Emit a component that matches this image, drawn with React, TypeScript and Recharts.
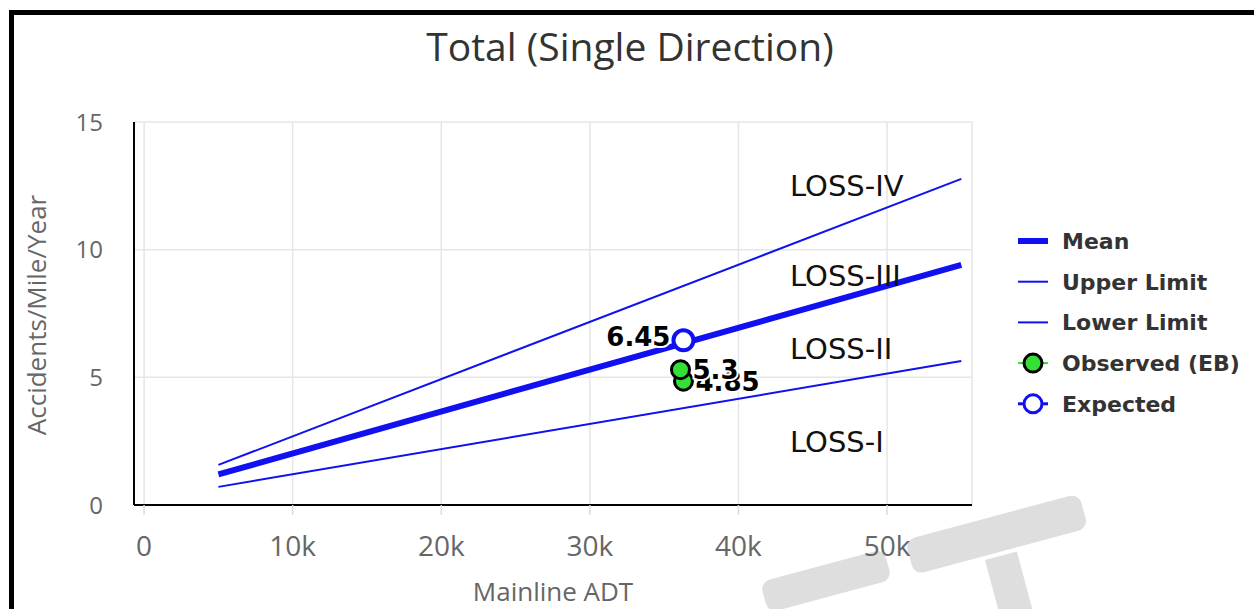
import React from 'react';
import { ComposedChart, Line, Scatter, XAxis, YAxis, CartesianGrid } from 'recharts';

// data
const adtRange = [5000, 55000];
const meanRate = [1.2, 9.4];
const upperRate = [1.57, 12.77];
const lowerRate = [0.71, 5.64];

const observedAdt = [36300, 36100];
const observedRate = [4.85, 5.3];
const expectedAdt = [36300];
const expectedRate = [6.45];

const xTicks = [0, 10000, 20000, 30000, 40000, 50000];
const yTicks = [0, 5, 10, 15];

const zoneLabels = ['LOSS-IV', 'LOSS-III', 'LOSS-II', 'LOSS-I'];
const zoneY = [186, 276, 349, 442];

const legendNames = ['Mean', 'Upper Limit', 'Lower Limit', 'Observed (EB)', 'Expected'];

const toRows = (xs: number[], ys: number[]) => xs.map((x, i) => ({ adt: x, rate: ys[i] }));

const meanData = toRows(adtRange, meanRate);
const upperData = toRows(adtRange, upperRate);
const lowerData = toRows(adtRange, lowerRate);
const observedData = toRows(observedAdt, observedRate);
const expectedData = toRows(expectedAdt, expectedRate);

const BLUE = '#1010f0';
const GREEN = '#33e033';
const sans = '"Open Sans", sans-serif';
const dejavu = '"DejaVu Sans", sans-serif';

const labelStyle = {
  fontFamily: dejavu,
  fontWeight: 700,
  fontSize: 26,
  fill: '#000',
  stroke: '#fff',
  strokeWidth: 4,
  paintOrder: 'stroke',
} as React.CSSProperties;

const ObservedDot = (p: any) => (
  <g>
    <circle cx={p.cx} cy={p.cy} r={9} fill={GREEN} stroke="#000" strokeWidth={3} />
    <text x={p.cx + 12} y={p.cy} dy="0.36em" style={labelStyle}>
      {p.payload.rate}
    </text>
  </g>
);

const ExpectedDot = (p: any) => (
  <g>
    <text x={p.cx - 13} y={p.cy - 4} dy="0.36em" textAnchor="end" style={labelStyle}>
      {p.payload.rate}
    </text>
    <circle cx={p.cx} cy={p.cy} r={10} fill="#fff" stroke={BLUE} strokeWidth={4} />
  </g>
);

const LegendIcon = ({ i }: { i: number }) => {
  if (i === 0) return <line x1={0} y1={10} x2={30} y2={10} stroke={BLUE} strokeWidth={6} />;
  if (i < 3) return <line x1={0} y1={10} x2={30} y2={10} stroke={BLUE} strokeWidth={2} />;
  if (i === 3)
    return (
      <g>
        <line x1={0} y1={10} x2={30} y2={10} stroke={GREEN} strokeWidth={2} />
        <circle cx={15} cy={10} r={9} fill={GREEN} stroke="#000" strokeWidth={3} />
      </g>
    );
  return (
    <g>
      <line x1={0} y1={10} x2={30} y2={10} stroke={BLUE} strokeWidth={3} />
      <circle cx={15} cy={10} r={9} fill="#fff" stroke={BLUE} strokeWidth={3} />
    </g>
  );
};

export default function App() {
  return (
    <div style={{ position: 'absolute', left: 0, top: 0, width: 1254, height: 609, background: '#fff', overflow: 'hidden' }}>
      {/* watermark + frame behind the chart */}
      <svg width={1254} height={609} style={{ position: 'absolute', left: 0, top: 0 }}>
        <g fill="#dedede">
          <rect x={0} y={0} width={128} height={32} rx={10} transform="translate(760,582) rotate(-15)" />
          <rect x={0} y={0} width={180} height={36} rx={10} transform="translate(905,540) rotate(-15)" />
          <rect x={0} y={0} width={33} height={80} transform="translate(985,560) rotate(-15)" />
        </g>
        <rect x={9} y={10} width={5} height={599} fill="#000" />
        <rect x={9} y={10} width={1245} height={5} fill="#000" />
      </svg>

      <div style={{ position: 'absolute', left: 0, top: 0 }}>
        <ComposedChart width={1254} height={609} margin={{ top: 122, right: 282, bottom: 44, left: 64 }}>
          <CartesianGrid stroke="#e6e6e6" strokeWidth={1.5} />
          <XAxis
            type="number"
            dataKey="adt"
            domain={[-680, 55720]}
            ticks={xTicks}
            tickFormatter={(v: number) => (v === 0 ? '0' : `${v / 1000}k`)}
            height={60}
            axisLine={{ stroke: '#000', strokeWidth: 2 }}
            tickLine={{ stroke: '#dddddd', strokeWidth: 1.5 }}
            tickSize={10}
            tickMargin={21}
            tick={{ fill: '#666', fontSize: 28, fontFamily: sans }}
            allowDataOverflow
          />
          <YAxis
            type="number"
            domain={[0, 15]}
            ticks={yTicks}
            width={70}
            axisLine={{ stroke: '#000', strokeWidth: 2 }}
            tickLine={false}
            tickSize={10}
            tickMargin={21}
            tick={{ fill: '#666', fontSize: 24, fontFamily: sans }}
          />
          <Line data={upperData} dataKey="rate" stroke={BLUE} strokeWidth={2} dot={false} isAnimationActive={false} />
          <Line data={lowerData} dataKey="rate" stroke={BLUE} strokeWidth={2} dot={false} isAnimationActive={false} />
          <Line data={meanData} dataKey="rate" stroke={BLUE} strokeWidth={6} dot={false} isAnimationActive={false} />
          <Scatter data={observedData} dataKey="rate" shape={ObservedDot} isAnimationActive={false} />
          <Scatter data={expectedData} dataKey="rate" shape={ExpectedDot} isAnimationActive={false} />
        </ComposedChart>
      </div>

      {/* texts and legend on top */}
      <svg width={1254} height={609} style={{ position: 'absolute', left: 0, top: 0, pointerEvents: 'none' }}>
        <text x={630} y={61} textAnchor="middle" fontFamily={sans} fontSize={39} fill="#333">
          Total (Single Direction)
        </text>
        <text x={553} y={601} textAnchor="middle" fontFamily={sans} fontSize={26} fill="#666">
          Mainline ADT
        </text>
        <text
          x={0}
          y={0}
          transform="translate(46,315) rotate(-90)"
          textAnchor="middle"
          fontFamily={sans}
          fontSize={26}
          fill="#666"
        >
          Accidents/Mile/Year
        </text>
        {zoneLabels.map((t, i) => (
          <text key={t} x={790} y={zoneY[i]} dy="0.36em" fontFamily={dejavu} fontSize={29} fill="#111">
            {t}
          </text>
        ))}
        {legendNames.map((n, i) => (
          <g key={n} transform={`translate(1018,${231 + i * 40.7})`}>
            <LegendIcon i={i} />
            <text x={44} y={10} dy="0.36em" fontFamily={dejavu} fontWeight={700} fontSize={22} fill="#333">
              {n}
            </text>
          </g>
        ))}
      </svg>
    </div>
  );
}
